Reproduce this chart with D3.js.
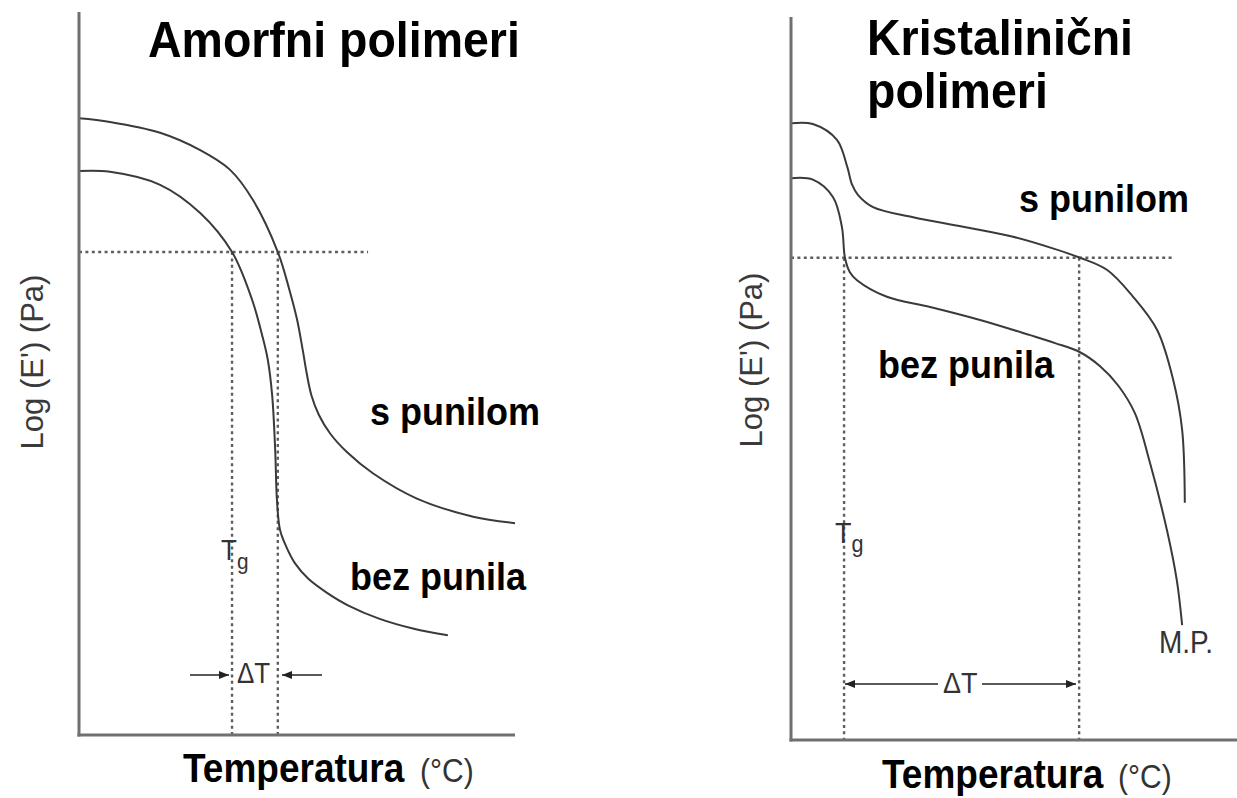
<!DOCTYPE html>
<html lang="sr">

<head>
  <meta charset="UTF-8">
  <script src="https://cdn.jsdelivr.net/npm/d3@7"></script>
  <title>Log(E') - amorfni i kristalinični polimeri</title>
  <style>
    body {
      margin: 0;
      background: #fff;
    }

    svg text {
      font-family: Arial, "Liberation Sans", sans-serif;
    }

    .curve {
      fill: none;
      stroke: #3a3a3a;
      stroke-width: 2px;
    }

    .guide {
      stroke: #5e5e5e;
      stroke-width: 2.4px;
      stroke-dasharray: 3, 3.4;
    }

    .axis {
      stroke: #707070;
      stroke-width: 3px;
    }

    .big {
      font-weight: bold;
      fill: #000;
    }

    .small {
      fill: #333;
    }
  </style>
</head>

<body>
  <svg id="chart" width="1237" height="798"></svg>

  <script>
    /*------------------- data (temperature 0-100, log E' 0-10) -------------------*/
    // amorphous polymers
    const amorfSPunilom = [
      [0, 8.53], [7.1, 8.48], [18.6, 8.33], [27.8, 8.09], [34.6, 7.82], [39.9, 7.40],
      [45.6, 6.68], [48.2, 6.17], [50.0, 5.75], [51.3, 5.33], [52.2, 5.01], [53.3, 4.70],
      [55.0, 4.43], [57.6, 4.17], [61.5, 3.91], [67.4, 3.62], [77.5, 3.27], [90.4, 3.02], [100, 2.93]
    ];
    const amorfBezPunila = [
      [0, 7.80], [7.1, 7.79], [18.6, 7.61], [27.8, 7.22], [35.1, 6.68], [39.7, 6.02],
      [42.0, 5.53], [43.3, 5.19], [44.3, 4.70], [45.0, 3.94], [45.4, 3.25], [46.1, 2.84],
      [47.5, 2.61], [49.6, 2.37], [52.6, 2.16], [56.8, 1.97], [61.8, 1.79], [68.8, 1.61],
      [76.8, 1.47], [84.6, 1.38]
    ];
    const amorfGuides = { tg: 35.1, t2: 45.6, level: 6.68, levelEnd: 66.3 };

    // crystalline polymers
    const kristSPunilom = [
      [0, 8.53], [4.9, 8.52], [10.3, 8.30], [12.6, 7.93], [13.7, 7.68], [15.0, 7.54],
      [18.4, 7.37], [27.4, 7.23], [38.6, 7.10], [49.8, 6.96], [58.7, 6.80], [64.8, 6.67],
      [70.9, 6.50], [76.7, 6.13], [82.1, 5.67], [85.7, 4.98], [87.7, 4.29], [88.3, 3.28]
    ];
    const kristBezPunila = [
      [0, 7.77], [4.9, 7.75], [9.4, 7.51], [11.4, 7.10], [12.1, 6.67], [13.2, 6.47],
      [14.8, 6.36], [21.5, 6.13], [31.2, 5.99], [42.4, 5.81], [53.6, 5.60], [59.2, 5.49],
      [64.6, 5.37], [69.3, 5.17], [73.4, 4.90], [77.1, 4.52], [80.5, 3.83], [84.3, 2.90],
      [86.5, 2.21], [87.7, 1.59]
    ];
    const kristGuides = { tg: 11.9, t2: 64.6, level: 6.67, levelEnd: 85.7 };

    const yAxisLabel = "Log (E') (Pa)";
    const xAxisLabel = "Temperatura";
    const xAxisUnit = "(°C)";

    /*------------------- svg + arrow markers -------------------*/
    const svg = d3.select("#chart");
    const defs = svg.append("defs");
    defs.append("marker")
      .attr("id", "head")
      .attr("viewBox", "0 0 10 8")
      .attr("refX", 10).attr("refY", 4)
      .attr("markerWidth", 11).attr("markerHeight", 8)
      .attr("markerUnits", "userSpaceOnUse")
      .attr("orient", "auto")
      .append("path").attr("d", "M0,0L10,4L0,8Z").attr("fill", "#222");

    // text slightly taller than wide, like the scanned figure
    const addText = (g, cls, px, py, size, str, stretch = 1.08) => g.append("text")
      .attr("class", cls)
      .attr("transform", `translate(${px},${py}) scale(1,${stretch})`)
      .style("font-size", size + "px")
      .text(str);

    const drawPanel = (cfg) => {
      const x = d3.scaleLinear().domain([0, 100]).range(cfg.xRange);
      const y = d3.scaleLinear().domain([0, 10]).range(cfg.yRange);
      const g = svg.append("g");

      const line = d3.line()
        .x(d => x(d[0]))
        .y(d => y(d[1]))
        .curve(d3.curveCatmullRom.alpha(0.5));

      // dashed guides
      const gd = cfg.guides;
      g.append("line").attr("class", "guide")
        .attr("x1", x(0)).attr("x2", x(gd.levelEnd))
        .attr("y1", y(gd.level)).attr("y2", y(gd.level));
      [gd.tg, gd.t2].forEach(t => {
        g.append("line").attr("class", "guide")
          .attr("x1", x(t)).attr("x2", x(t))
          .attr("y1", y(gd.level)).attr("y2", y(0));
      });

      // curves
      cfg.curves.forEach(c => {
        g.append("path").attr("class", "curve").attr("d", line(c));
      });

      // axes
      g.append("line").attr("class", "axis")
        .attr("x1", x(0)).attr("x2", x(0)).attr("y1", y(10)).attr("y2", y(0) + 1.5);
      g.append("line").attr("class", "axis")
        .attr("x1", x(0) - 1.5).attr("x2", x(100)).attr("y1", y(0)).attr("y2", y(0));

      // titles
      cfg.title.forEach((t, i) => {
        addText(g, "big", cfg.titlePos[0], cfg.titlePos[1] + i * 53, 46.5, t);
      });

      // curve labels
      cfg.labels.forEach(l => {
        addText(g, "big", l.x, l.y, 36, l.text);
      });

      // Tg
      const tgText = addText(g, "small", x(gd.tg) - cfg.tg.dx, cfg.tg.y, cfg.tg.size, null, 1.1);
      tgText.append("tspan").text("T");
      tgText.append("tspan").attr("dy", 8).style("font-size", (cfg.tg.size * 0.8) + "px").text("g");

      // delta T with arrows
      const dt = cfg.delta;
      addText(g, "small", dt.textX, dt.y + dt.size * 0.32, dt.size, "ΔT", 1.1);
      dt.arrows.forEach(a => {
        g.append("line")
          .attr("x1", a[0]).attr("x2", a[1])
          .attr("y1", dt.y).attr("y2", dt.y)
          .attr("stroke", "#222").attr("stroke-width", 1.6)
          .attr("marker-end", "url(#head)");
      });

      if (cfg.mp) {
        addText(g, "small", cfg.mp.x, cfg.mp.y, 28, "M.P.", 1.1);
      }

      // axis titles
      g.append("text").attr("class", "small")
        .attr("transform", `translate(${cfg.yLabel[0]},${cfg.yLabel[1]}) rotate(-90)`)
        .attr("text-anchor", "middle")
        .style("font-size", "31px").style("fill", "#3a3a3a")
        .text(yAxisLabel);
      addText(g, "big", cfg.xLabel[0], cfg.xLabel[1], 37, xAxisLabel);
      addText(g, "small", cfg.xLabel[2], cfg.xLabel[1], 30, xAxisUnit);
    };

    // left: amorphous
    drawPanel({
      xRange: [79, 515], yRange: [735, 12],
      curves: [amorfSPunilom, amorfBezPunila],
      guides: amorfGuides,
      title: ["Amorfni polimeri"], titlePos: [148, 57],
      labels: [{ text: "s punilom", x: 370, y: 425 }, { text: "bez punila", x: 350, y: 590 }],
      tg: { dx: 11, y: 560, size: 26 },
      delta: { textX: 237, y: 675, size: 26, arrows: [[190, 229], [322, 282]] },
      yLabel: [43, 362],
      xLabel: [183, 782, 420]
    });

    // right: crystalline
    drawPanel({
      xRange: [791, 1237], yRange: [740, 17],
      curves: [kristSPunilom, kristBezPunila],
      guides: kristGuides,
      title: ["Kristalinični", "polimeri"], titlePos: [867, 55],
      labels: [{ text: "s punilom", x: 1019, y: 212 }, { text: "bez punila", x: 878, y: 378 }],
      tg: { dx: 9, y: 543, size: 27 },
      delta: { textX: 943, y: 684, size: 27, arrows: [[938, 845], [982, 1076]] },
      mp: { x: 1159, y: 653 },
      yLabel: [762, 360],
      xLabel: [882, 788, 1118]
    });
  </script>
</body>

</html>
